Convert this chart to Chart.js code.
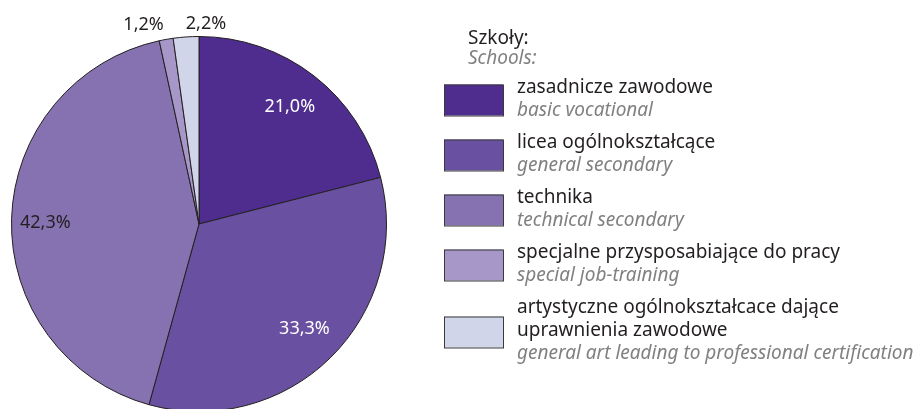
<!DOCTYPE html>
<html>
<head>
<meta charset="utf-8">
<script src="https://cdn.jsdelivr.net/npm/chart.js@4"></script>
<style>
  html, body { margin: 0; padding: 0; background: #fff; overflow: hidden; width: 917px; height: 409px; }
  #wrap { position: absolute; left: 0; top: 0; width: 917px; height: 430px; }
</style>
</head>
<body>
<div id="wrap"><canvas id="pie"></canvas></div>
<script>
// udział uczniów wg typu szkoły (%)
const legendTitle = ['Szkoły:', 'Schools:'];
const labelsPl = [
    ['zasadnicze zawodowe'],
    ['licea ogólnokształcące'],
    ['technika'],
    ['specjalne przysposabiające do pracy'],
    ['artystyczne ogólnokształcace dające', 'uprawnienia zawodowe']
];
const labelsEn = ['basic vocational', 'general secondary', 'technical secondary',
                  'special job-training', 'general art leading to professional certification'];
const shares = [21.0, 33.3, 42.3, 1.2, 2.2];
const colors = ['#4f2d8f', '#6a50a0', '#8672b0', '#a796c8', '#d0d5ea'];

const TEXT = '#231f20';
const GREY = '#808080';
const FONT = '"Noto Sans", sans-serif';

// gdzie stoją etykiety procentowe: ułamek promienia + przesunięcie
const labelPlace = [
    { r: 0.79, dx: 0,   dy: 0, color: '#ffffff' },
    { r: 0.78, dx: 3,   dy: 0, color: '#ffffff' },
    { r: 0.82, dx: 0,   dy: 3, color: TEXT },
    { r: 1.08, dx: -20, dy: 0, color: TEXT },
    { r: 1.08, dx: 21,  dy: 2, color: TEXT }
];

const fmt = v => v.toFixed(1).replace('.', ',') + '%';

const sliceLabels = {
    id: 'sliceLabels',
    afterDatasetsDraw(chart) {
        const ctx = chart.ctx;
        const meta = chart.getDatasetMeta(0);
        ctx.save();
        ctx.font = `18px ${FONT}`;
        ctx.textAlign = 'center';
        ctx.textBaseline = 'middle';
        meta.data.forEach((arc, i) => {
            const p = arc.getProps(['x', 'y', 'startAngle', 'endAngle', 'outerRadius'], true);
            const mid = (p.startAngle + p.endAngle) / 2;
            const pl = labelPlace[i];
            const x = p.x + Math.cos(mid) * p.outerRadius * pl.r + pl.dx;
            const y = p.y + Math.sin(mid) * p.outerRadius * pl.r + pl.dy;
            ctx.fillStyle = pl.color;
            ctx.fillText(fmt(shares[i]), x, y);
        });
        ctx.restore();
    }
};

// legenda po prawej: kolorowe prostokąty + nazwa PL i EN
const sideLegend = {
    id: 'sideLegend',
    afterDraw(chart) {
        const ctx = chart.ctx;
        const boxX = 444, textX = 517, lh = 23;
        ctx.save();
        ctx.textAlign = 'left';
        ctx.textBaseline = 'alphabetic';

        ctx.font = `19px ${FONT}`;
        ctx.fillStyle = TEXT;
        ctx.fillText(legendTitle[0], 468, 44);
        ctx.font = `italic 19px ${FONT}`;
        ctx.fillStyle = GREY;
        ctx.fillText(legendTitle[1], 468, 64);

        let y = 93;
        labelsPl.forEach((lines, i) => {
            const first = y;
            ctx.font = `19px ${FONT}`;
            ctx.fillStyle = TEXT;
            lines.forEach(t => { ctx.fillText(t, textX, y); y += lh; });
            ctx.font = `italic 19px ${FONT}`;
            ctx.fillStyle = GREY;
            ctx.fillText(labelsEn[i], textX, y);
            const last = y;

            const mid = Math.round((first - 13 + last + 4) / 2);
            ctx.fillStyle = colors[i];
            ctx.fillRect(boxX, mid - 15.5, 59, 31);
            ctx.strokeStyle = '#3a3a3a';
            ctx.lineWidth = 1;
            ctx.strokeRect(boxX + 0.5, mid - 15, 59, 31);
            y += 32;
        });
        ctx.restore();
    }
};

new Chart(document.getElementById('pie').getContext('2d'), {
    type: 'pie',
    data: {
        labels: labelsPl.map(l => l.join(' ')),
        datasets: [{
            data: shares,
            backgroundColor: colors,
            borderColor: TEXT,
            borderWidth: 1
        }]
    },
    options: {
        responsive: true,
        maintainAspectRatio: false,
        animation: false,
        layout: { padding: { left: 11, top: 36, right: 530, bottom: 18 } },
        plugins: {
            legend: { display: false },
            tooltip: { enabled: false }
        }
    },
    plugins: [sliceLabels, sideLegend]
});
</script>
</body>
</html>
